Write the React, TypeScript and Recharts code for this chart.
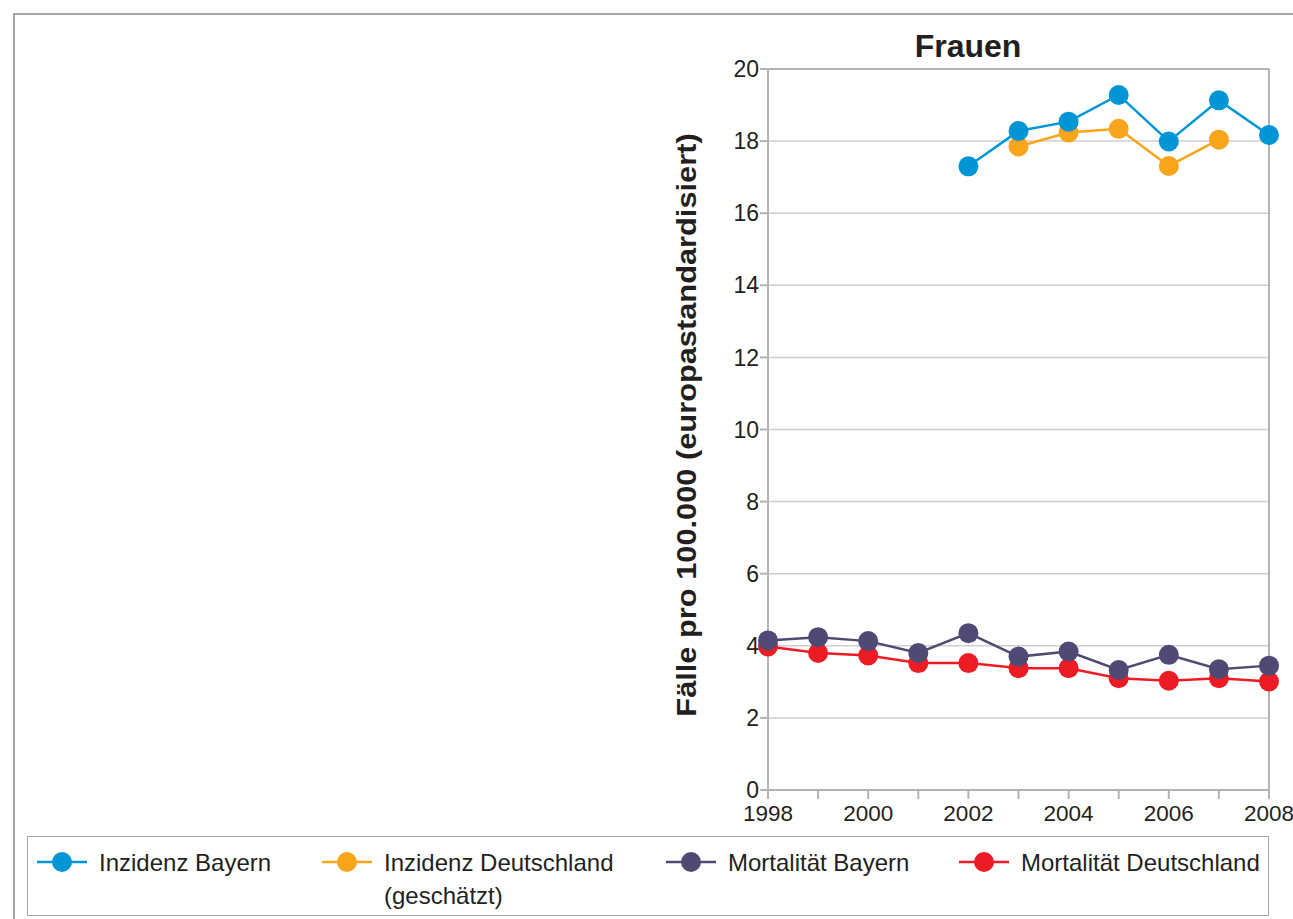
import React from 'react';
import { LineChart, Line, XAxis, YAxis, CartesianGrid, ReferenceLine } from 'recharts';

const years = [1998, 1999, 2000, 2001, 2002, 2003, 2004, 2005, 2006, 2007, 2008];
const inzidenzBayern = [null, null, null, null, 17.3, 18.28, 18.54, 19.28, 17.99, 19.13, 18.17];
const inzidenzDeutschland = [null, null, null, null, null, 17.85, 18.24, 18.34, 17.31, 18.04, null];
const mortalitaetBayern = [4.15, 4.24, 4.13, 3.8, 4.35, 3.7, 3.84, 3.33, 3.75, 3.35, 3.45];
const mortalitaetDeutschland = [3.98, 3.8, 3.73, 3.52, 3.52, 3.38, 3.38, 3.1, 3.03, 3.1, 3.01];
const yTicks = [0, 2, 4, 6, 8, 10, 12, 14, 16, 18, 20];

const FONT = '"Liberation Sans", Arial, Helvetica, sans-serif';
const TEXT = '#231f20';
const AXIS = '#b3b3b3';

const series = [
  { key: 'inzD', name: 'Inzidenz Deutschland', color: '#f8a51b' },
  { key: 'inzB', name: 'Inzidenz Bayern', color: '#0096d6' },
  { key: 'morD', name: 'Mortalität Deutschland', color: '#ed1c24' },
  { key: 'morB', name: 'Mortalität Bayern', color: '#4f4a74' },
];

const legendItems = [
  { label: ['Inzidenz Bayern'], color: '#0096d6', x: 37 },
  { label: ['Inzidenz Deutschland', '(geschätzt)'], color: '#f8a51b', x: 322 },
  { label: ['Mortalität Bayern'], color: '#4f4a74', x: 666 },
  { label: ['Mortalität Deutschland'], color: '#ed1c24', x: 959 },
];

const data = years.map((year, i) => ({
  year,
  inzB: inzidenzBayern[i],
  inzD: inzidenzDeutschland[i],
  morB: mortalitaetBayern[i],
  morD: mortalitaetDeutschland[i],
}));

const LegendIcon = ({ color }: { color: string }) => (
  <svg width={50} height={24} style={{ display: 'block' }}>
    <line x1={0} y1={12} x2={50} y2={12} stroke={color} strokeWidth={2.5} />
    <circle cx={25} cy={12} r={10} fill={color} />
  </svg>
);

export default function App() {
  return (
    <div style={{ position: 'absolute', left: 0, top: 0, width: 1293, height: 919, background: '#fff', fontFamily: FONT, color: TEXT, overflow: 'hidden' }}>
      {/* outer frame, top and left only */}
      <div style={{ position: 'absolute', left: 13, top: 13, width: 1290, height: 920, borderTop: '2px solid #a6a6a6', borderLeft: '2px solid #a6a6a6' }} />

      <div style={{ position: 'absolute', left: 0, top: 0 }}>
        <LineChart width={1293} height={919} data={data} margin={{ top: 69, right: 24, left: 0, bottom: 89 }}>
          <CartesianGrid vertical={false} stroke="#cfcfcf" strokeWidth={1.5} />
          <XAxis
            dataKey="year"
            type="number"
            domain={[1998, 2008]}
            ticks={years}
            tickFormatter={(v: number) => (v % 2 === 0 ? String(v) : '')}
            height={40}
            tickSize={9}
            tickMargin={6}
            stroke={AXIS}
            strokeWidth={2}
            tick={{ fill: TEXT, fontSize: 22.5, fontFamily: FONT }}
            interval={0}
          />
          <YAxis
            domain={[0, 20]}
            ticks={yTicks}
            width={768}
            tickSize={8}
            tickMargin={1}
            stroke={AXIS}
            strokeWidth={2}
            tick={{ fill: TEXT, fontSize: 23, fontFamily: FONT }}
            interval={0}
          />
          <ReferenceLine y={20} stroke={AXIS} strokeWidth={2} />
          <ReferenceLine x={2008} stroke={AXIS} strokeWidth={2} />
          {series.map(s => (
            <Line
              key={s.key}
              dataKey={s.key}
              name={s.name}
              stroke={s.color}
              strokeWidth={2.5}
              dot={{ r: 10, fill: s.color, stroke: s.color, strokeWidth: 0 }}
              activeDot={false}
              isAnimationActive={false}
              connectNulls={false}
            />
          ))}
        </LineChart>
      </div>

      {/* title */}
      <div style={{ position: 'absolute', left: 768, width: 400, top: 28, textAlign: 'center', fontSize: 32, fontWeight: 'bold', lineHeight: '36px' }}>
        Frauen
      </div>

      {/* y axis title */}
      <div
        style={{
          position: 'absolute',
          left: 687 - 300,
          top: 425 - 16,
          width: 600,
          height: 32,
          lineHeight: '32px',
          textAlign: 'center',
          fontSize: 27,
          fontWeight: 'bold',
          whiteSpace: 'nowrap',
          transform: 'rotate(-90deg) scaleX(1.14)',
        }}
      >
        Fälle pro 100.000 (europastandardisiert)
      </div>

      {/* legend */}
      <div style={{ position: 'absolute', left: 27, top: 836, width: 1242, height: 80, border: '1.5px solid #a6a6a6', boxSizing: 'border-box' }} />
      {legendItems.map(item => (
        <div key={item.label[0]} style={{ position: 'absolute', left: item.x, top: 850, display: 'flex', alignItems: 'flex-start' }}>
          <LegendIcon color={item.color} />
          <div style={{ marginLeft: 12, fontSize: 24, lineHeight: '33px', marginTop: -4.5 }}>
            {item.label.map(l => (
              <div key={l}>{l}</div>
            ))}
          </div>
        </div>
      ))}
    </div>
  );
}
